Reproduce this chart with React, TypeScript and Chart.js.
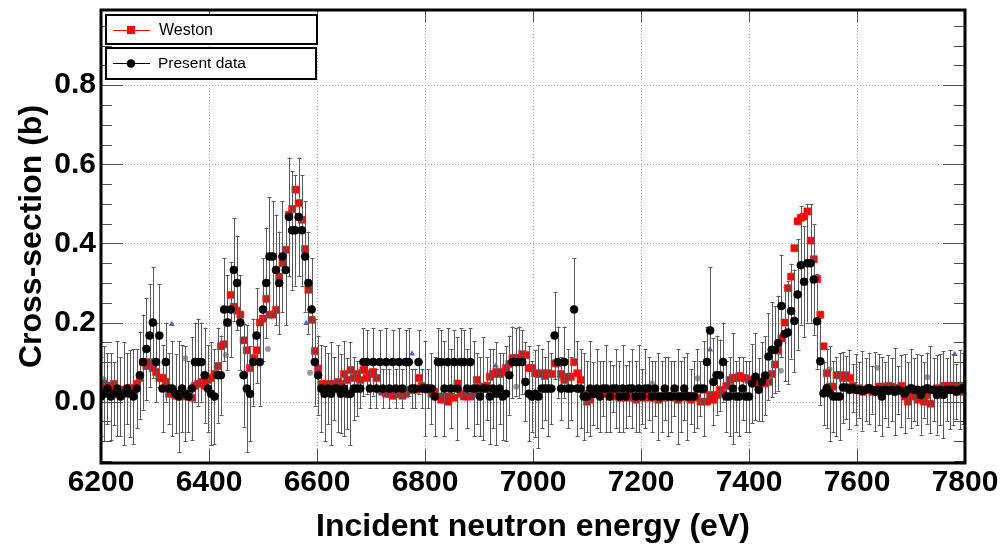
import { useEffect, useRef } from 'react';
import { Chart, registerables } from 'chart.js';

Chart.register(...registerables);

// ---- data -------------------------------------------------------------
// Both data sets are sampled on the same 6 eV energy bin grid.
const E_START = 6200;
const E_STEP = 6;

// Present data (black circles), cross-section in barn
const presentValues = [
  0.013, 0.02, 0.033, 0.013, 0.02, 0.033, 0.013, 0.02, 0.033, 0.02,
  0.013, 0.033, 0.067, 0.1, 0.133, 0.167, 0.2, 0.1, 0.167, 0.033,
  0.1, 0.033, 0.033, 0.02, 0.013, 0.033, 0.02, 0.013, 0.033, 0.1,
  0.1, 0.1, 0.067, 0.033, 0.02, 0.013, 0.067, 0.067, 0.233, 0.2,
  0.233, 0.333, 0.3, 0.2, 0.067, 0.033, 0.02, 0.1, 0.167, 0.1,
  0.233, 0.3, 0.367, 0.367, 0.333, 0.3, 0.367, 0.333, 0.467, 0.433,
  0.433, 0.467, 0.433, 0.367, 0.3, 0.233, 0.1, 0.067, 0.033, 0.02,
  0.033, 0.02, 0.033, 0.033, 0.02, 0.033, 0.02, 0.02, 0.033, 0.033,
  0.033, 0.1, 0.1, 0.033, 0.1, 0.033, 0.1, 0.033, 0.1, 0.033,
  0.1, 0.033, 0.1, 0.033, 0.1, 0.1, 0.033, 0.033, 0.1, 0.033,
  0.033, 0.033, 0.033, 0.013, 0.1, 0.1, 0.033, 0.1, 0.033, 0.1,
  0.033, 0.1, 0.1, 0.033, 0.1, 0.033, 0.033, 0.013, 0.033, 0.033,
  0.013, 0.033, 0.02, 0.033, 0.013, 0.02, 0.067, 0.1, 0.1, 0.1,
  0.1, 0.05, 0.02, 0.013, 0.02, 0.013, 0.033, 0.033, 0.033, 0.033,
  0.167, 0.1, 0.033, 0.1, 0.033, 0.033, 0.233, 0.033, 0.033, 0.013,
  0.013, 0.033, 0.02, 0.033, 0.013, 0.033, 0.033, 0.013, 0.033, 0.033,
  0.013, 0.033, 0.013, 0.033, 0.033, 0.013, 0.033, 0.013, 0.033, 0.033,
  0.013, 0.033, 0.013, 0.013, 0.033, 0.013, 0.013, 0.033, 0.013, 0.013,
  0.033, 0.013, 0.013, 0.013, 0.033, 0.033, 0.033, 0.1, 0.18, 0.05,
  0.067, 0.067, 0.1, 0.013, 0.013, 0.033, 0.013, 0.013, 0.033, 0.013,
  0.013, 0.046, 0.063, 0.03, 0.05, 0.066, 0.114, 0.131, 0.131, 0.148,
  0.242, 0.171, 0.175, 0.229, 0.204, 0.271, 0.345, 0.303, 0.35, 0.35,
  0.309, 0.203, 0.102, 0.021, 0.034, 0.021, 0.013, 0.013, 0.013, 0.036,
  0.036, 0.03, 0.034, 0.03, 0.03, 0.027, 0.03, 0.034, 0.03, 0.025,
  0.03, 0.013, 0.03, 0.027, 0.03, 0.025, 0.03, 0.027, 0.02, 0.03,
  0.034, 0.03, 0.03, 0.017, 0.03, 0.034, 0.03, 0.03, 0.017, 0.03,
  0.017, 0.03, 0.03, 0.03, 0.025, 0.03, 0.034,
];

// Present data uncertainties (barn)
const presentErrors = [
  0.1, 0.12, 0.09, 0.11, 0.08, 0.12, 0.1, 0.13, 0.09, 0.11,
  0.12, 0.1, 0.11, 0.12, 0.13, 0.13, 0.14, 0.1, 0.13, 0.11,
  0.1, 0.09, 0.12, 0.1, 0.14, 0.11, 0.12, 0.09, 0.13, 0.1,
  0.11, 0.1, 0.12, 0.11, 0.13, 0.12, 0.12, 0.1, 0.13, 0.12,
  0.12, 0.13, 0.12, 0.12, 0.13, 0.16, 0.12, 0.11, 0.12, 0.11,
  0.13, 0.14, 0.15, 0.14, 0.14, 0.13, 0.14, 0.14, 0.15, 0.15,
  0.14, 0.15, 0.14, 0.14, 0.13, 0.13, 0.11, 0.1, 0.11, 0.12,
  0.09, 0.13, 0.08, 0.11, 0.1, 0.12, 0.09, 0.13, 0.08, 0.07,
  0.05, 0.085, 0.08, 0.05, 0.085, 0.05, 0.08, 0.05, 0.085, 0.05,
  0.08, 0.05, 0.085, 0.05, 0.08, 0.085, 0.05, 0.05, 0.08, 0.05,
  0.12, 0.05, 0.09, 0.1, 0.085, 0.08, 0.12, 0.085, 0.1, 0.08,
  0.13, 0.085, 0.08, 0.1, 0.085, 0.12, 0.09, 0.1, 0.13, 0.08,
  0.12, 0.1, 0.13, 0.09, 0.11, 0.12, 0.1, 0.09, 0.085, 0.09,
  0.08, 0.1, 0.12, 0.09, 0.11, 0.13, 0.1, 0.08, 0.12, 0.09,
  0.11, 0.09, 0.08, 0.09, 0.1, 0.08, 0.13, 0.12, 0.1, 0.11,
  0.09, 0.12, 0.08, 0.1, 0.09, 0.07, 0.11, 0.09, 0.06, 0.1,
  0.09, 0.11, 0.08, 0.07, 0.1, 0.09, 0.11, 0.07, 0.1, 0.08,
  0.09, 0.07, 0.11, 0.09, 0.08, 0.1, 0.09, 0.07, 0.12, 0.09,
  0.08, 0.11, 0.07, 0.09, 0.1, 0.07, 0.12, 0.09, 0.16, 0.11,
  0.1, 0.09, 0.1, 0.09, 0.1, 0.14, 0.09, 0.1, 0.08, 0.09,
  0.09, 0.1, 0.11, 0.08, 0.1, 0.1, 0.11, 0.12, 0.11, 0.12,
  0.13, 0.12, 0.13, 0.12, 0.13, 0.14, 0.15, 0.14, 0.15, 0.15,
  0.14, 0.12, 0.11, 0.08, 0.1, 0.12, 0.09, 0.1, 0.11, 0.09,
  0.08, 0.1, 0.06, 0.09, 0.07, 0.1, 0.08, 0.09, 0.06, 0.1,
  0.09, 0.1, 0.07, 0.09, 0.08, 0.11, 0.06, 0.09, 0.1, 0.07,
  0.1, 0.08, 0.09, 0.1, 0.07, 0.09, 0.11, 0.08, 0.1, 0.09,
  0.11, 0.08, 0.1, 0.09, 0.07, 0.1, 0.09,
];

// Weston (red squares), cross-section in barn
const westonValues = [
  0.033, 0.045, 0.04, 0.033, 0.045, 0.033, 0.03, 0.025, 0.03, 0.035,
  0.03, 0.045, 0.06, 0.1, 0.09, 0.1, 0.085, 0.075, 0.06, 0.06,
  0.05, 0.02, 0.02, 0.015, 0.02, 0.013, 0.02, 0.013, 0.01, 0.04,
  0.045, 0.05, 0.04, 0.055, 0.06, 0.07, 0.09, 0.14, 0.145, 0.2,
  0.27, 0.24, 0.23, 0.22, 0.155, 0.13, 0.085, 0.11, 0.13, 0.2,
  0.21, 0.26, 0.22, 0.22, 0.232, 0.316, 0.35, 0.384, 0.472, 0.487,
  0.536, 0.502, 0.46, 0.386, 0.283, 0.207, 0.128, 0.084, 0.045, 0.04,
  0.045, 0.04, 0.045, 0.05, 0.045, 0.07, 0.055, 0.08, 0.06, 0.07,
  0.055, 0.08, 0.06, 0.07, 0.075, 0.06, 0.03, 0.025, 0.02, 0.02,
  0.015, 0.02, 0.02, 0.015, 0.02, 0.03, 0.03, 0.03, 0.06, 0.04,
  0.035, 0.03, 0.02, 0.025, 0.013, 0.005, 0.013, 0.0, 0.013, 0.01,
  0.046, 0.02, 0.013, 0.013, 0.013, 0.02, 0.055, 0.035, 0.038, 0.04,
  0.063, 0.07, 0.075, 0.07, 0.075, 0.085, 0.095, 0.11, 0.11, 0.11,
  0.12, 0.118, 0.085, 0.085, 0.072, 0.07, 0.072, 0.065, 0.072, 0.07,
  0.097, 0.097, 0.07, 0.055, 0.063, 0.063, 0.1, 0.072, 0.055, 0.02,
  0.0, 0.005, 0.02, 0.02, 0.025, 0.02, 0.02, 0.013, 0.015, 0.013,
  0.01, 0.013, 0.01, 0.015, 0.01, 0.005, 0.013, 0.01, 0.015, 0.01,
  0.013, 0.01, 0.005, 0.013, 0.01, 0.015, 0.013, 0.01, 0.005, 0.013,
  0.01, 0.015, 0.005, 0.013, 0.01, 0.0, 0.03, 0.0, 0.017, 0.005,
  0.017, 0.03, 0.02, 0.04, 0.055, 0.06, 0.06, 0.065, 0.06, 0.059,
  0.055, 0.05, 0.046, 0.05, 0.05, 0.046, 0.05, 0.07, 0.094, 0.129,
  0.16, 0.2, 0.287, 0.316, 0.388, 0.456, 0.465, 0.468, 0.481, 0.407,
  0.36, 0.31, 0.22, 0.14, 0.072, 0.038, 0.038, 0.067, 0.067, 0.06,
  0.067, 0.06, 0.04, 0.03, 0.034, 0.025, 0.03, 0.034, 0.025, 0.03,
  0.038, 0.038, 0.035, 0.04, 0.038, 0.035, 0.03, 0.04, 0.013, 0.0,
  0.013, 0.02, 0.005, 0.013, 0.0, 0.017, -0.005, 0.03, 0.034, 0.03,
  0.04, 0.035, 0.04, 0.04, 0.035, 0.04, 0.025,
];

// Other evaluations shown without a legend entry
const triangleEnergies = [6331, 6580, 6776, 6931, 7328, 7781];
const triangleValues = [0.196, 0.198, 0.121, 0.091, 0.131, 0.12];
const greyEnergies = [6205, 6356, 6431, 6509, 6587, 6969, 7051, 7220, 7305, 7459, 7549, 7638, 7730];
const greyValues = [0.057, 0.11, 0.118, 0.133, 0.073, 0.038, 0.059, 0.046, 0.059, 0.078, 0.082, 0.086, 0.062];

// Axes
const xTickValues = [6200, 6400, 6600, 6800, 7000, 7200, 7400, 7600, 7800];
const yTickValues = [0.0, 0.2, 0.4, 0.6, 0.8];
const X_MIN = 6200;
const X_MAX = 7800;
const Y_MIN = -0.155;
const Y_MAX = 0.99;
const Y_MINOR_STEP = 0.05;

const FONT = "'Liberation Sans', Arial, Helvetica, sans-serif";

const binEnergy = (i: number) => E_START + i * E_STEP;

const rootStylePlugin = {
  id: 'rootStyle',
  beforeDatasetsDraw(chart: any) {
    const { ctx, chartArea: a, scales } = chart;
    const xs = scales.x;
    const ys = scales.y;
    ctx.save();
    ctx.strokeStyle = '#a8a8a8';
    ctx.lineWidth = 1;
    ctx.setLineDash([1, 2]);
    ctx.beginPath();
    for (const v of xTickValues) {
      const px = Math.round(xs.getPixelForValue(v)) + 0.5;
      ctx.moveTo(px, a.top);
      ctx.lineTo(px, a.bottom);
    }
    for (const v of yTickValues) {
      const py = Math.round(ys.getPixelForValue(v)) + 0.5;
      ctx.moveTo(a.left, py);
      ctx.lineTo(a.right, py);
    }
    ctx.stroke();
    ctx.restore();
  },
  beforeDatasetDraw(chart: any, args: any) {
    if (args.meta.label !== 'Present data') return;
    const { ctx, chartArea: a, scales } = chart;
    const xs = scales.x;
    const ys = scales.y;
    ctx.save();
    ctx.beginPath();
    ctx.rect(a.left, a.top, a.right - a.left, a.bottom - a.top);
    ctx.clip();
    ctx.strokeStyle = '#5a5a5a';
    ctx.lineWidth = 1;
    ctx.beginPath();
    presentValues.forEach((v, i) => {
      const px = Math.round(xs.getPixelForValue(binEnergy(i))) + 0.5;
      const top = ys.getPixelForValue(v + presentErrors[i]);
      const bot = ys.getPixelForValue(v - presentErrors[i]);
      ctx.moveTo(px, top);
      ctx.lineTo(px, bot);
      ctx.moveTo(px - 2, Math.round(top) + 0.5);
      ctx.lineTo(px + 2, Math.round(top) + 0.5);
      ctx.moveTo(px - 2, Math.round(bot) + 0.5);
      ctx.lineTo(px + 2, Math.round(bot) + 0.5);
    });
    ctx.stroke();
    ctx.restore();
  },
  afterDatasetsDraw(chart: any) {
    const { ctx, chartArea: a, scales } = chart;
    const xs = scales.x;
    const ys = scales.y;
    ctx.save();
    // ticks (inside the frame, ROOT style)
    ctx.strokeStyle = '#505050';
    ctx.lineWidth = 1;
    ctx.beginPath();
    for (const v of xTickValues) {
      const px = Math.round(xs.getPixelForValue(v)) + 0.5;
      ctx.moveTo(px, a.bottom);
      ctx.lineTo(px, a.bottom - 14);
      ctx.moveTo(px, a.top);
      ctx.lineTo(px, a.top + 12);
    }
    const nMinor = Math.round((Y_MAX - (-0.15)) / Y_MINOR_STEP);
    for (let k = 0; k <= nMinor; k++) {
      const v = -0.15 + k * Y_MINOR_STEP;
      if (v > Y_MAX) break;
      const isMajor = Math.abs(v / 0.2 - Math.round(v / 0.2)) < 1e-6;
      const len = isMajor ? 22 : 11;
      const py = Math.round(ys.getPixelForValue(v)) + 0.5;
      ctx.moveTo(a.left, py);
      ctx.lineTo(a.left + len, py);
      ctx.moveTo(a.right, py);
      ctx.lineTo(a.right - len, py);
    }
    ctx.stroke();

    // thick frame
    ctx.strokeStyle = '#000';
    ctx.lineWidth = 3;
    ctx.strokeRect(a.left, a.top, a.right - a.left, a.bottom - a.top);

    // legend: two separate boxes
    const drawBox = (x: number, y: number, w: number, h: number) => {
      ctx.fillStyle = '#fff';
      ctx.fillRect(x, y, w, h);
      ctx.strokeStyle = '#000';
      ctx.lineWidth = 2;
      ctx.strokeRect(x, y, w, h);
    };
    drawBox(106, 15, 211, 29);
    drawBox(106, 48, 210, 31);

    ctx.lineWidth = 1;
    // Weston entry
    ctx.strokeStyle = '#ff0000';
    ctx.beginPath();
    ctx.moveTo(113, 30.5);
    ctx.lineTo(150, 30.5);
    ctx.stroke();
    ctx.fillStyle = '#ff0000';
    ctx.fillRect(127, 26, 8, 8);
    // Present data entry
    ctx.strokeStyle = '#000';
    ctx.beginPath();
    ctx.moveTo(113, 63.5);
    ctx.lineTo(150, 63.5);
    ctx.stroke();
    ctx.fillStyle = '#000';
    ctx.beginPath();
    ctx.arc(131, 63.5, 4.3, 0, Math.PI * 2);
    ctx.fill();

    ctx.fillStyle = '#000';
    ctx.font = `16px ${FONT}`;
    ctx.textBaseline = 'middle';
    ctx.textAlign = 'left';
    ctx.fillText('Weston', 159, 30.5);
    ctx.font = `15.5px ${FONT}`;
    ctx.fillText('Present data', 158, 64);
    ctx.restore();
  },
};

export default function App() {
  const canvasRef = useRef<HTMLCanvasElement | null>(null);

  useEffect(() => {
    document.body.style.margin = '0';
    const canvas = canvasRef.current;
    if (!canvas) return;

    const presentData = presentValues.map((v, i) => ({ x: binEnergy(i), y: v }));
    const westonData = westonValues.map((v, i) => ({ x: binEnergy(i), y: v }));
    const triData = triangleEnergies.map((e, i) => ({ x: e, y: triangleValues[i] }));
    const greyData = greyEnergies.map((e, i) => ({ x: e, y: greyValues[i] }));

    const chart = new Chart(canvas, {
      type: 'scatter',
      data: {
        datasets: [
          {
            label: 'Present data',
            data: presentData,
            pointStyle: 'circle',
            pointRadius: 4,
            pointBackgroundColor: '#000',
            pointBorderColor: '#000',
            pointBorderWidth: 0.6,
            order: 1,
          },
          {
            label: 'Weston',
            data: westonData,
            pointStyle: 'rect',
            pointRadius: 5,
            pointBackgroundColor: '#ff0000',
            pointBorderColor: '#ff0000',
            pointBorderWidth: 0.5,
            order: 2,
          },
          {
            label: 'other',
            data: triData,
            pointStyle: 'triangle',
            pointRadius: 3.5,
            pointBackgroundColor: '#5a5ad2',
            pointBorderColor: '#5a5ad2',
            pointBorderWidth: 0,
            order: 3,
          },
          {
            label: 'other2',
            data: greyData,
            pointStyle: 'circle',
            pointRadius: 3,
            pointBackgroundColor: '#9a9a9a',
            pointBorderColor: '#9a9a9a',
            pointBorderWidth: 0,
            order: 3,
          },
        ],
      },
      options: {
        responsive: false,
        animation: false,
        devicePixelRatio: 1,
        events: [],
        layout: { padding: { left: 0, right: 40, top: 10, bottom: 0 } },
        plugins: { legend: { display: false }, tooltip: { enabled: false } },
        scales: {
          x: {
            type: 'linear',
            min: X_MIN,
            max: X_MAX,
            afterBuildTicks: (s: any) => {
              s.ticks = xTickValues.map((v) => ({ value: v }));
            },
            afterFit: (s: any) => {
              s.height = 86;
              s.paddingLeft = 0;
              s.paddingRight = 0;
            },
            grid: { display: false, drawTicks: false },
            border: { display: false },
            ticks: {
              color: '#000',
              font: { family: FONT, size: 30, weight: 'bold' },
              padding: 2,
              maxRotation: 0,
              autoSkip: false,
              callback: (v: any) => String(v),
            },
            title: {
              display: true,
              text: 'Incident neutron energy (eV)',
              color: '#000',
              font: { family: FONT, size: 32, weight: 'bold' },
              padding: { top: 0, bottom: 3 },
            },
          },
          y: {
            type: 'linear',
            min: Y_MIN,
            max: Y_MAX,
            afterBuildTicks: (s: any) => {
              s.ticks = yTickValues.map((v) => ({ value: v }));
            },
            afterFit: (s: any) => {
              s.width = 101;
              s.paddingTop = 0;
              s.paddingBottom = 0;
            },
            grid: { display: false, drawTicks: false },
            border: { display: false },
            ticks: {
              color: '#000',
              font: { family: FONT, size: 30, weight: 'bold' },
              padding: 5,
              autoSkip: false,
              callback: (v: any) => Number(v).toFixed(1),
            },
            title: {
              display: true,
              text: 'Cross-section (b)',
              color: '#000',
              font: { family: FONT, size: 32, weight: 'bold' },
              padding: { top: 13, bottom: 0 },
            },
          },
        },
      },
      plugins: [rootStylePlugin],
    } as any);

    return () => chart.destroy();
  }, []);

  return (
    <div style={{ width: 1005, height: 549 }}>
      <canvas ref={canvasRef} width={1005} height={549} style={{ display: 'block' }} />
    </div>
  );
}
